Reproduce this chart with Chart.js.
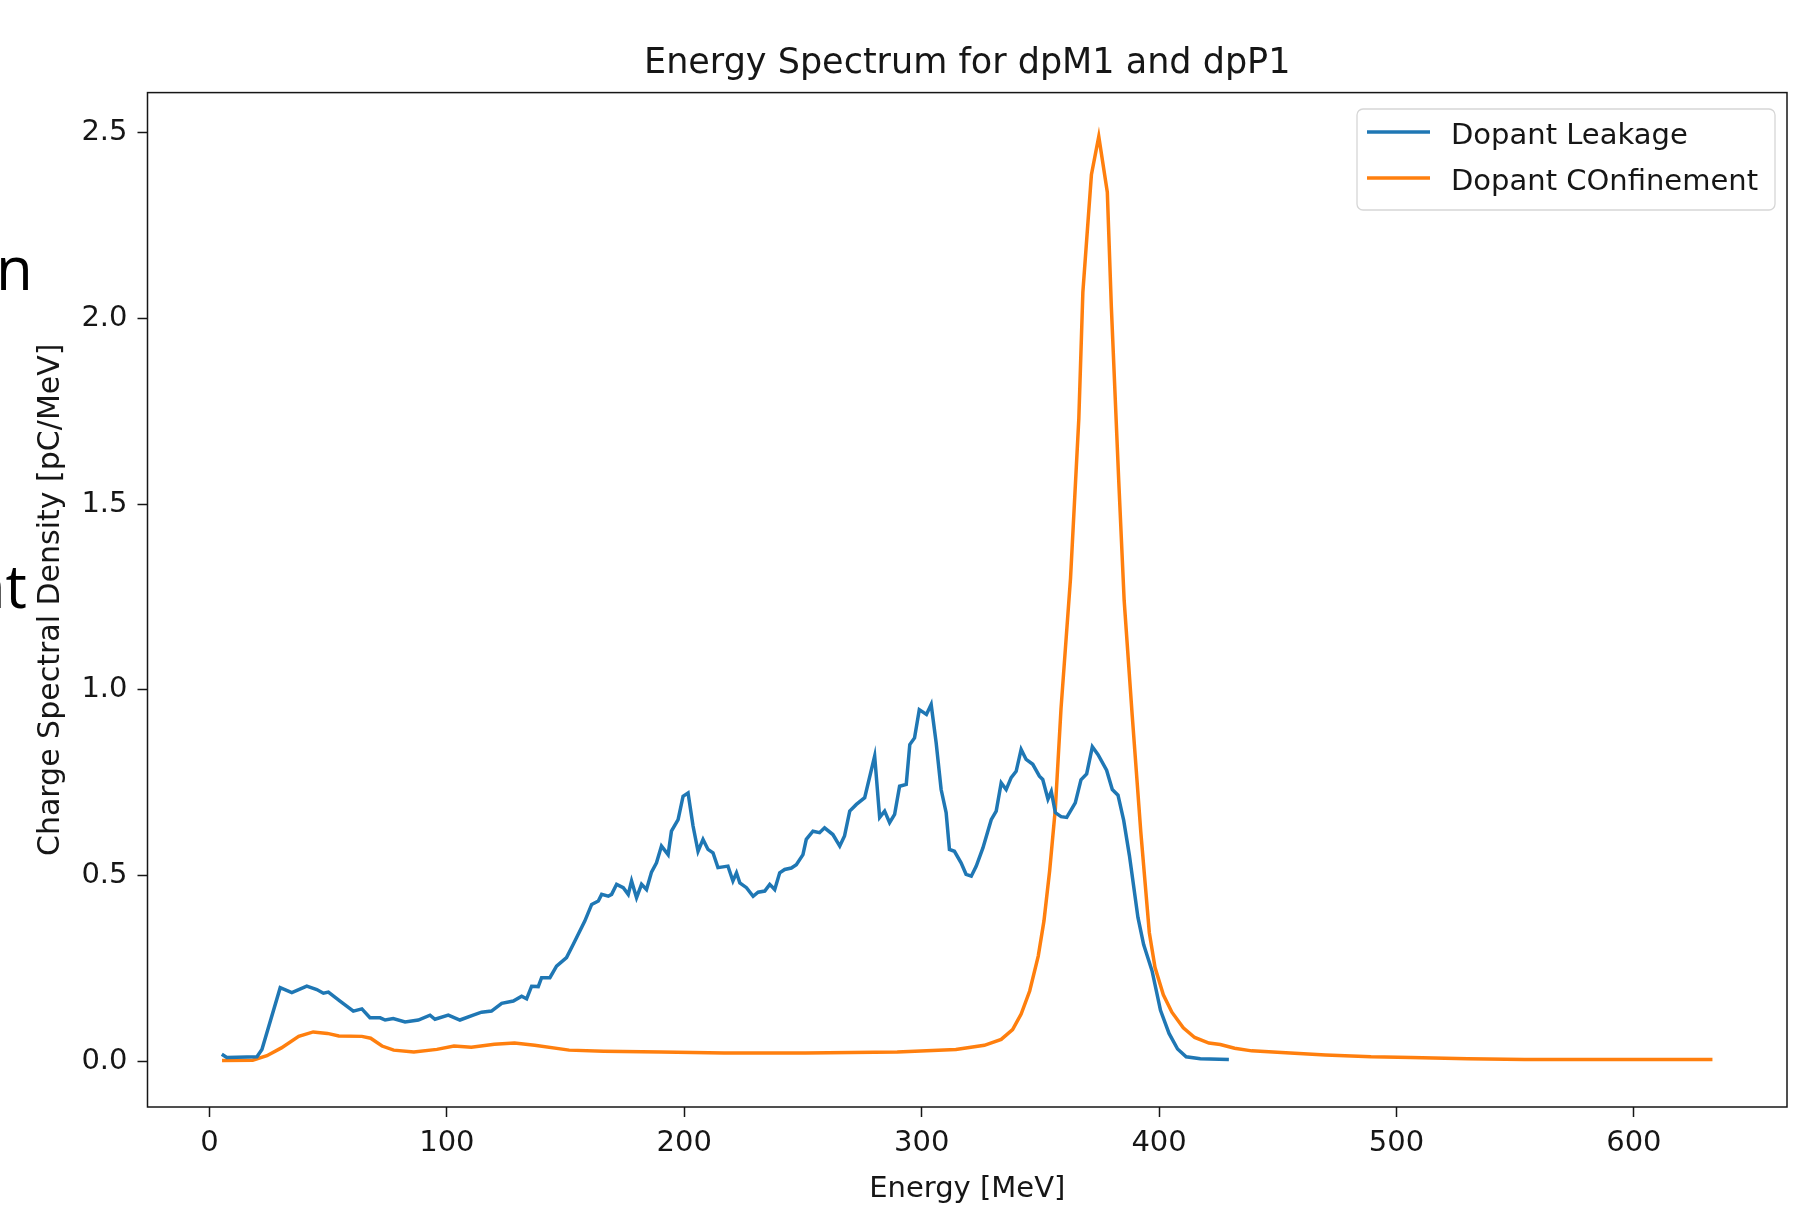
<!DOCTYPE html>
<html>
<head>
<meta charset="utf-8">
<script src="https://cdn.jsdelivr.net/npm/chart.js@4.4.1/dist/chart.umd.min.js"></script>
<style>
  html, body { margin: 0; padding: 0; background: #fff; }
  canvas { display: block; }
</style>
</head>
<body>
<canvas id="spectrum" width="1793" height="1207"></canvas>
<script>
// values
var leakageEnergy = [5.2, 7.3, 20, 22.1, 29.8, 34.7, 41, 45.2, 48, 50.1, 55, 60.6, 64.2, 67.6, 71.9, 74,
  77.4, 82.4, 88, 92.9, 95, 100.6, 105.5, 111.1, 114.6, 118.8, 123.1, 128, 131.5, 133.6, 135.7, 138.5,
  139.9, 143.4, 146.2, 150.4, 153.2, 158.1, 161, 163.8, 165.2, 168, 169.4, 171.5, 174.3, 176.4, 177.8,
  179.9, 182, 184.1, 186.2, 188.3, 190.4, 193.2, 194.6, 197.4, 199.5, 201.6, 203.7, 205.8, 207.9, 210,
  212.1, 214.2, 218.4, 220.5, 222, 223.4, 226.2, 229, 231.1, 233.9, 236, 238.1, 240.2, 242.3, 245.1,
  247.2, 250, 251.4, 254.2, 257, 259.1, 262.6, 265.5, 267.5, 269.7, 272.5, 276, 280.2, 282.3, 284.4,
  286.5, 288.6, 290.7, 293.5, 295, 297, 299, 302, 304, 306.1, 308.2, 310.3, 311.7, 313.8, 316.6, 318.7,
  320.9, 323, 325.8, 329.3, 331.4, 333.5, 335.6, 337.7, 339.8, 341.9, 344, 346.8, 349.6, 351, 353.2,
  354.6, 356.3, 358.7, 361.1, 364.7, 367.1, 369.5, 371.9, 374.3, 377.9, 380.3, 382.7, 385.1, 387.5,
  391.1, 393.5, 397.1, 400.6, 404.2, 407.8, 411.4, 417.4, 429.4];
var leakageCharge = [0.02, 0.011, 0.013, 0.033, 0.199, 0.186, 0.203, 0.194, 0.184, 0.187, 0.163, 0.136,
  0.142, 0.118, 0.118, 0.112, 0.116, 0.107, 0.112, 0.125, 0.114, 0.125, 0.112, 0.125, 0.133, 0.136,
  0.157, 0.163, 0.176, 0.169, 0.203, 0.202, 0.226, 0.226, 0.257, 0.28, 0.315, 0.378, 0.423, 0.432,
  0.45, 0.445, 0.45, 0.477, 0.468, 0.45, 0.486, 0.441, 0.477, 0.463, 0.51, 0.535, 0.58, 0.557, 0.62,
  0.651, 0.714, 0.723, 0.634, 0.566, 0.598, 0.571, 0.562, 0.522, 0.526, 0.486, 0.508, 0.481, 0.468,
  0.445, 0.456, 0.459, 0.477, 0.463, 0.508, 0.517, 0.521, 0.53, 0.557, 0.598, 0.62, 0.616, 0.629,
  0.611, 0.58, 0.607, 0.674, 0.692, 0.71, 0.822, 0.657, 0.674, 0.643, 0.665, 0.741, 0.746, 0.853,
  0.871, 0.947, 0.934, 0.961, 0.858, 0.732, 0.67, 0.571, 0.566, 0.535, 0.504, 0.499, 0.526, 0.575,
  0.651, 0.674, 0.75, 0.732, 0.764, 0.781, 0.84, 0.813, 0.8, 0.768, 0.759, 0.706, 0.727, 0.67, 0.659,
  0.657, 0.696, 0.758, 0.774, 0.847, 0.826, 0.784, 0.732, 0.717, 0.649, 0.555, 0.388, 0.315, 0.243,
  0.138, 0.076, 0.034, 0.013, 0.008, 0.006];

var confinementEnergy = [5.3, 18.2, 24.2, 30.3, 37.6, 43.7, 49.7, 54.5, 64.2, 67.9, 72.7, 77.6, 86.1,
  95.8, 103, 110.3, 120, 128.5, 137, 151.5, 166, 190.3, 216.8, 251, 289.7, 314.4, 326.4, 333.5, 338.3,
  341.9, 345.5, 349.1, 351.5, 353.9, 356.3, 358.7, 362.7, 366.2, 367.9, 371.5, 374.6, 378.2, 379.9,
  383, 385.3, 388.7, 392.3, 395.9, 398.3, 401.8, 405.4, 410.2, 415, 421, 425.8, 431.8, 439, 453.4,
  470.1, 489.3, 506.1, 530, 554, 633.1];
var confinementCharge = [0.003, 0.004, 0.016, 0.037, 0.068, 0.08, 0.076, 0.069, 0.068, 0.063, 0.042,
  0.031, 0.026, 0.033, 0.042, 0.039, 0.047, 0.05, 0.044, 0.031, 0.028, 0.026, 0.023, 0.023, 0.026,
  0.033, 0.044, 0.06, 0.086, 0.128, 0.19, 0.284, 0.378, 0.513, 0.68, 0.95, 1.3, 1.73, 2.07, 2.386,
  2.489, 2.339, 2.03, 1.564, 1.24, 0.93, 0.618, 0.347, 0.253, 0.18, 0.133, 0.091, 0.065, 0.05, 0.046,
  0.036, 0.029, 0.024, 0.018, 0.013, 0.011, 0.008, 0.006, 0.006];

var xTicks = [0, 100, 200, 300, 400, 500, 600];
var yTicks = [0.0, 0.5, 1.0, 1.5, 2.0, 2.5];
var seriesNames = ['Dopant Leakage', 'Dopant COnfinement'];
var seriesColors = ['#1f77b4', '#ff7f0e'];

var FONT = 'DejaVu Sans';
var TEXT = '#161616';

function toPoints(xs, ys) {
  return xs.map(function (x, i) { return { x: x, y: ys[i] }; });
}

// frame, title, legend and the clipped slide text around the figure
var decorations = {
  id: 'decorations',
  afterDraw: function (chart) {
    var ctx = chart.ctx;
    var a = chart.chartArea;
    ctx.save();

    ctx.strokeStyle = TEXT;
    ctx.lineWidth = 1.5;
    ctx.strokeRect(a.left, a.top, a.right - a.left, a.bottom - a.top);

    ctx.fillStyle = TEXT;
    ctx.font = '35px "' + FONT + '"';
    ctx.textAlign = 'center';
    ctx.textBaseline = 'alphabetic';
    ctx.fillText('Energy Spectrum for dpM1 and dpP1', (a.left + a.right) / 2, 73);

    // legend box
    var bx = 1357, by = 109, bw = 418, bh = 101, r = 6;
    ctx.beginPath();
    ctx.moveTo(bx + r, by);
    ctx.arcTo(bx + bw, by, bx + bw, by + bh, r);
    ctx.arcTo(bx + bw, by + bh, bx, by + bh, r);
    ctx.arcTo(bx, by + bh, bx, by, r);
    ctx.arcTo(bx, by, bx + bw, by, r);
    ctx.closePath();
    ctx.fillStyle = 'rgba(255,255,255,0.8)';
    ctx.fill();
    ctx.strokeStyle = '#d6d6d6';
    ctx.lineWidth = 1.3;
    ctx.stroke();

    ctx.font = '29px "' + FONT + '"';
    ctx.textAlign = 'left';
    ctx.textBaseline = 'middle';
    seriesNames.forEach(function (name, i) {
      var yy = 132 + i * 46;
      ctx.strokeStyle = seriesColors[i];
      ctx.lineWidth = 3.5;
      ctx.beginPath();
      ctx.moveTo(1367, yy);
      ctx.lineTo(1430, yy);
      ctx.stroke();
      ctx.fillStyle = TEXT;
      ctx.fillText(name, 1451, yy + 4);
    });

    // fragments of the slide behind the screenshot
    ctx.fillStyle = '#000';
    ctx.font = '60px "Open Sans"';
    ctx.textAlign = 'left';
    ctx.textBaseline = 'alphabetic';
    ctx.fillText('n', -4, 290);
    ctx.textAlign = 'right';
    ctx.fillText('nt', 27, 608);
    ctx.restore();
  }
};

var ctx = document.getElementById('spectrum').getContext('2d');
var spectrumChart = new Chart(ctx, {
  type: 'line',
  data: {
    datasets: [
      {
        label: seriesNames[0],
        data: toPoints(leakageEnergy, leakageCharge),
        borderColor: seriesColors[0],
        borderWidth: 3.5,
        pointRadius: 0,
        tension: 0,
        fill: false
      },
      {
        label: seriesNames[1],
        data: toPoints(confinementEnergy, confinementCharge),
        borderColor: seriesColors[1],
        borderWidth: 3.5,
        pointRadius: 0,
        tension: 0,
        fill: false
      }
    ]
  },
  options: {
    responsive: false,
    animation: false,
    layout: { padding: { left: 0, right: 6, top: 92.6, bottom: 0 } },
    plugins: {
      legend: { display: false },
      tooltip: { enabled: false },
      title: { display: false }
    },
    scales: {
      x: {
        type: 'linear',
        min: -26.1,
        max: 664.5,
        afterBuildTicks: function (scale) {
          scale.ticks = xTicks.map(function (v) { return { value: v }; });
        },
        afterFit: function (scale) { scale.height = 100; },
        grid: { display: true, drawOnChartArea: false, drawTicks: true, tickLength: 10, tickColor: TEXT, tickWidth: 1.5 },
        border: { display: false },
        ticks: { color: TEXT, padding: 9, font: { family: FONT, size: 29 }, maxRotation: 0 },
        title: { display: true, text: 'Energy [MeV]', color: TEXT, font: { family: FONT, size: 29 }, padding: { top: 0, bottom: 0.5 } }
      },
      y: {
        type: 'linear',
        min: -0.122,
        max: 2.607,
        afterBuildTicks: function (scale) {
          scale.ticks = yTicks.map(function (v) { return { value: v }; });
        },
        afterFit: function (scale) { scale.width = 147.5; },
        grid: { display: true, drawOnChartArea: false, drawTicks: true, tickLength: 10, tickColor: TEXT, tickWidth: 1.5 },
        border: { display: false },
        ticks: {
          color: TEXT,
          padding: 10,
          font: { family: FONT, size: 29 },
          callback: function (v) { return Number(v).toFixed(1); }
        },
        title: { display: true, text: 'Charge Spectral Density [pC/MeV]', color: TEXT, font: { family: FONT, size: 30 }, padding: { top: 33, bottom: 0 } }
      }
    }
  },
  plugins: [decorations]
});
</script>
</body>
</html>
